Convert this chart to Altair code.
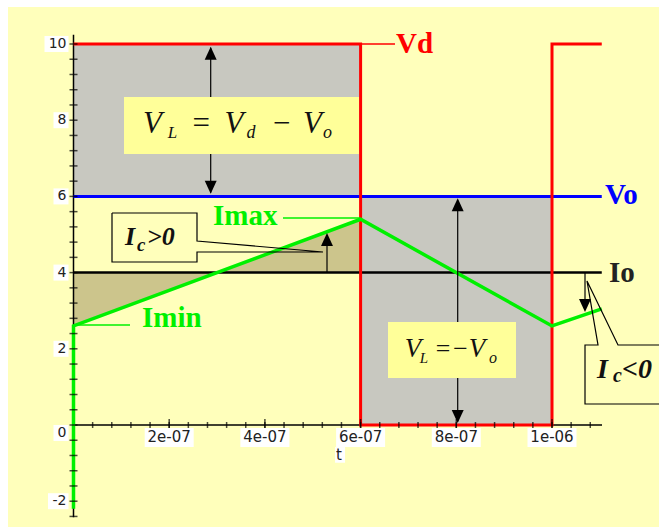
import altair as alt
import pandas as pd

# ---- layout of the plotting canvas ----
W, H = 651, 520
X_DOM = [-1.36886e-7, 1.223614e-6]
Y_DOM = [-2.6771, 10.9711]
X_PER_PX = (X_DOM[1] - X_DOM[0]) / W
Y_PER_PX = (Y_DOM[1] - Y_DOM[0]) / H

BG = "#FFFFBB"
BOX = "#FFFF99"
GRAY = "#C8C8C0"
TAN = "#CCC58C"
GREEN = "#00F000"
SERIF = "Liberation Serif"
SANS = "DejaVu Sans"

# ---- waveforms ----
t_end = 1.104e-6
vd_t = [0.0, 6e-7, 6e-7, 1e-6, 1e-6, t_end]      # switch-node voltage Vd
vd_v = [10, 10, 0, 0, 10, 10]
vo_level = 6                                       # output voltage Vo
io_level = 4                                       # average current Io
il_t = [0.0, 0.0, 6e-7, 1e-6, t_end]               # inductor current
il_v = [-2.2, 2.6, 5.4, 2.6, 3.05]

# ---- axis ticks ----
x_major = [2e-7, 4e-7, 6e-7, 8e-7, 1e-6]
x_labels = ["2e-07", "4e-07", "6e-07", "8e-07", "1e-06"]
x_minor = [k * 0.4e-7 for k in range(1, 28)]
y_major = [-2, 0, 2, 4, 6, 8, 10]
y_labels = ["-2", "0", "2", "4", "6", "8", "10"]
y_minor = [round(-2.4 + k * 0.4, 2) for k in range(32)]
x_axis_end = 1.1045e-6
y_axis_range = [-2.42, 10.24]

xs = alt.Scale(domain=X_DOM, nice=False, zero=False)
ys = alt.Scale(domain=Y_DOM, nice=False, zero=False)


def X(f="t"):
    return alt.X(f"{f}:Q", scale=xs, axis=None)


def Y(f="v"):
    return alt.Y(f"{f}:Q", scale=ys, axis=None)


def base(df):
    return alt.Chart(pd.DataFrame(df))


# shaded inductor-voltage regions
gray = base({"t": [0, 6e-7], "t2": [6e-7, 1e-6],
             "v": [vo_level, 0], "v2": [10, vo_level]}).mark_rect(color=GRAY).encode(
    x=X(), x2="t2:Q", y=Y(), y2="v2:Q")

# capacitor charge area between iL and Io during the on-interval
tan = base({"t": il_t[1:3], "v": il_v[1:3], "v2": [io_level, io_level]}).mark_area(
    color=TAN, opacity=1).encode(x=X(), y=Y(), y2="v2:Q")

# axis lines
axes = base({"t": [0, 0], "t2": [0, x_axis_end], "v": [y_axis_range[0], 0],
             "v2": [y_axis_range[1], 0]}).mark_rule(color="black", strokeWidth=1.5).encode(
    x=X(), x2="t2:Q", y=Y(), y2="v2:Q")

levels = base({"t": [0, 0], "t2": [t_end, t_end], "v": [vo_level, io_level],
               "c": ["#0000FF", "#000000"], "w": [3, 2.5]}).mark_rule().encode(
    x=X(), x2="t2:Q", y=Y(), color=alt.Color("c:N", scale=None),
    strokeWidth=alt.StrokeWidth("w:Q", scale=None))

vd_line = base({"t": vd_t, "v": vd_v, "i": list(range(len(vd_t)))}).mark_line(
    color="#FF0000", strokeWidth=3, strokeJoin="miter").encode(
    x=X(), y=Y(), order="i:Q")

il_line = base({"t": il_t, "v": il_v, "i": list(range(len(il_t)))}).mark_line(
    color=GREEN, strokeWidth=3.5).encode(x=X(), y=Y(), order="i:Q")

# thin leader lines to the curve names
leaders = base({"t": [0.60293e-6, 0.43783e-6, 0.00313e-6],
                "t2": [0.67189e-6, 0.59875e-6, 0.11808e-6],
                "v": [10, 5.433, 2.625],
                "c": ["#FF0000", GREEN, GREEN]}).mark_rule(strokeWidth=1.3).encode(
    x=X(), x2="t2:Q", y=Y(), color=alt.Color("c:N", scale=None))

# arrow shafts
shafts = base({"t": [0.28673e-6, 0.80293e-6, 0.52978e-6, 1.06897e-6],
               "v": [9.9, 5.9, io_level, io_level],
               "v2": [6.1, 0.1, 4.9, 3.1]}).mark_rule(color="black", strokeWidth=1.2).encode(
    x=X(), y=Y(), y2="v2:Q")

UP = "M0,0L-0.46,1L0.46,1Z"
DOWN = "M0,0L-0.46,-1L0.46,-1Z"
heads_up = base({"t": [0.28673e-6, 0.80293e-6, 0.52978e-6],
                 "v": [9.93, 5.95, 5.04]}).mark_point(
    shape=UP, filled=True, color="black", opacity=1, size=676, strokeWidth=0).encode(
    x=X(), y=Y())
heads_down = base({"t": [0.28673e-6, 0.80293e-6, 1.06897e-6],
                   "v": [6.07, 0.05, 2.966]}).mark_point(
    shape=DOWN, filled=True, color="black", opacity=1, size=676, strokeWidth=0).encode(
    x=X(), y=Y())

# formula boxes
boxes = base({"t": [0.10554e-6, 0.65726e-6], "t2": [0.59666e-6, 0.92476e-6],
              "v": [8.609, 2.703], "v2": [7.113, 1.234]}).mark_rect(color=BOX).encode(
    x=X(), x2="t2:Q", y=Y(), y2="v2:Q")

formula = base({
    "t": [0.1651e-6, 0.2069e-6, 0.2665e-6, 0.3354e-6, 0.3710e-6, 0.4347e-6, 0.4995e-6, 0.5308e-6,
          0.7095e-6, 0.7325e-6, 0.7715e-6, 0.8080e-6, 0.8433e-6, 0.8767e-6],
    "v": [7.664, 7.52, 7.664, 7.664, 7.52, 7.664, 7.664, 7.52,
          1.785, 1.627, 1.785, 1.785, 1.785, 1.627],
    "text": ["V", "L", "=", "V", "d", "−", "V", "o",
             "V", "L", "=", "−", "V", "o"],
    "s": [31, 17, 31, 31, 18, 31, 31, 18,
          27, 15, 26, 26, 27, 16],
}).mark_text(font=SERIF, fontStyle="italic", color="#111111", align="center",
             baseline="alphabetic").encode(
    x=X(), y=Y(), text="text:N", size=alt.Size("s:Q", scale=None))

# callout outlines for Ic>0 and Ic<0
call_t = [0.08046, 0.25810, 0.25810, 0.52142, 0.25810, 0.25810, 0.08046, 0.08046,
          1.26, 1.13793, 1.07315, 1.09613, 1.06897, 1.06897, 1.26]
call_v = [5.564, 5.564, 4.829, 4.541, 4.541, 4.278, 4.278, 5.564,
          2.100, 2.100, 3.780, 2.100, 2.100, 0.551, 0.551]
call_g = [0] * 8 + [1] * 7
callouts = base({"t": [x * 1e-6 for x in call_t], "v": call_v, "g": call_g,
                 "i": list(range(len(call_t)))}).mark_line(
    color="black", strokeWidth=1.2, clip=True, strokeJoin="miter").encode(
    x=X(), y=Y(), detail="g:N", order="i:Q")

ic_text = base({
    "t": [0.10763e-6, 0.13271e-6, 0.15361e-6, 1.09404e-6, 1.12748e-6, 1.14629e-6],
    "v": [4.724, 4.567, 4.724, 1.234, 1.129, 1.234],
    "text": ["I", "c", ">0", "I", "c", "<0"],
    "s": [26, 19, 26, 28, 20, 28],
}).mark_text(font=SERIF, fontStyle="italic", fontWeight="bold", color="#111111",
             align="left", baseline="alphabetic").encode(
    x=X(), y=Y(), text="text:N", size=alt.Size("s:Q", scale=None))

names = base({
    "t": [0.67398e-6, 1.11076e-6, 1.11912e-6, 0.29154e-6, 0.14316e-6],
    "v": [9.764, 5.801, 3.753, 5.249, 2.572],
    "text": ["Vd", "Vo", "Io", "Imax", "Imin"],
    "c": ["#FF0000", "#0000FF", "#222222", GREEN, GREEN],
}).mark_text(font=SERIF, fontWeight="bold", fontSize=29, align="left",
             baseline="alphabetic").encode(
    x=X(), y=Y(), text="text:N", color=alt.Color("c:N", scale=None))

# ticks
y_ticks = base({"t": [0] * len(y_minor), "v": y_minor}).mark_tick(
    orient="horizontal", size=8, thickness=1.5, color="black").encode(x=X(), y=Y())
x_ticks = base({"t": x_minor, "v": [0] * len(x_minor)}).mark_tick(
    orient="vertical", size=6, thickness=1.5, color="black").encode(x=X(), y=Y())
x_ticks_major = base({"t": x_major, "v": [0] * len(x_major)}).mark_tick(
    orient="vertical", size=12, thickness=1.5, color="black").encode(x=X(), y=Y())

# tick labels on white boxes
ylab_v = [v - (8 * Y_PER_PX if v == 0 else 0) for v in y_major]
ylab_w = [9 * sum(ch.isdigit() for ch in s) + 5.5 * s.count("-") + 3 for s in y_labels]
ylab_box = base({
    "t": [-(8 + w) * X_PER_PX for w in ylab_w],
    "t2": [-5 * X_PER_PX] * len(y_major),
    "v": [v - 8 * Y_PER_PX for v in ylab_v],
    "v2": [v + 8 * Y_PER_PX for v in ylab_v],
}).mark_rect(color="white").encode(x=X(), x2="t2:Q", y=Y(), y2="v2:Q")
ylab = base({"t": [-7 * X_PER_PX] * len(y_major), "v": ylab_v, "text": y_labels}).mark_text(
    font=SANS, fontSize=14, color="#222222", align="right", baseline="middle").encode(
    x=X(), y=Y(), text="text:N")

xlab_box = base({
    "t": [t - 24.5 * X_PER_PX for t in x_major],
    "t2": [t + 24.5 * X_PER_PX for t in x_major],
    "v": [-3 * Y_PER_PX] * len(x_major),
    "v2": [-22 * Y_PER_PX] * len(x_major),
}).mark_rect(color="white").encode(x=X(), x2="t2:Q", y=Y(), y2="v2:Q")
xlab = base({"t": x_major, "v": [-5 * Y_PER_PX] * len(x_major), "text": x_labels}).mark_text(
    font=SANS, fontSize=15, color="#222222", align="center", baseline="top").encode(
    x=X(), y=Y(), text="text:N")

t_box = base({"t": [0.5466e-6], "t2": [0.5466e-6 + 10 * X_PER_PX],
              "v": [-0.58], "v2": [-0.99]}).mark_rect(color="white").encode(
    x=X(), x2="t2:Q", y=Y(), y2="v2:Q")
t_title = base({"t": [0.5486e-6], "v": [-0.919], "text": ["t"]}).mark_text(
    font=SANS, fontSize=15, color="#222222", align="left", baseline="alphabetic").encode(
    x=X(), y=Y(), text="text:N")

chart = alt.layer(
    gray, tan, axes, levels, vd_line, il_line, leaders, shafts, heads_up, heads_down,
    boxes, formula, callouts, ic_text, names,
    y_ticks, x_ticks, x_ticks_major, ylab_box, ylab, xlab_box, xlab, t_box, t_title,
).properties(
    width=W, height=H, background="white",
    padding={"left": 8, "top": 7, "right": 0, "bottom": 0},
    autosize=alt.AutoSizeParams(type="none"),
).configure_view(fill=BG, strokeWidth=0)

chart.save("out.html", embed_options={"renderer": "svg", "actions": False})
